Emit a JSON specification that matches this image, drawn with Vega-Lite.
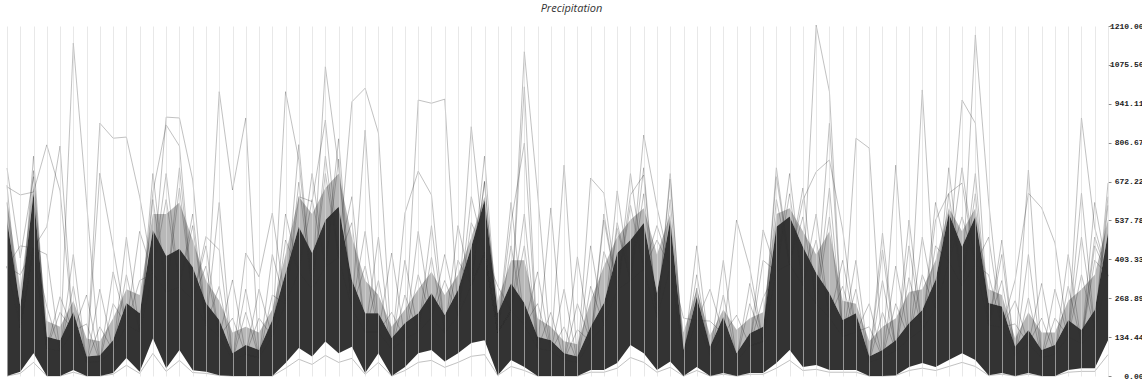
{
"$schema": "https://vega.github.io/schema/vega-lite/v6.json",
"autosize": {"type": "none"},
"width": 1101, "height": 350,
"padding": {"left": 7, "top": 26, "right": 34, "bottom": 9},
"background": "white",
"title": {"text": "Precipitation", "fontStyle": "italic", "font": "Open Sans", "fontSize": 11, "fontWeight": "normal", "color": "#333", "anchor": "middle", "dx": 14, "offset": 8},
"config": {
  "view": {"stroke": null},
  "axisY": {"labelFont": "Liberation Mono", "labelFontSize": 8, "labelFontWeight": "bold",
            "labelColor": "#222", "labelAlign": "right", "labelPadding": 32, "labelBaseline": "middle",
            "labelOverlap": false, "labelBound": false, "labelFlush": false,
            "tickSize": 3, "tickColor": "#888", "domain": false, "grid": false, "title": null}
},
"data": {"values": [
{"m":0,"lo":0,"hi":540,"h2":610,"a":719,"b":654,"c":378,"d":378,"e":660,"f":378,"g":0,"h":378,"i":600,"j":378},
{"m":1,"lo":15,"hi":240,"h2":300,"a":408,"b":626,"c":168,"d":168,"e":168,"f":350,"g":9,"h":450,"i":168,"j":168},
{"m":2,"lo":79,"hi":632,"h2":660,"a":689,"b":636,"c":442,"d":442,"e":710,"f":442,"g":47,"h":442,"i":442,"j":760},
{"m":3,"lo":0,"hi":136,"h2":190,"a":95,"b":799,"c":516,"d":95,"e":95,"f":240,"g":0,"h":95,"i":420,"j":95},
{"m":4,"lo":0,"hi":124,"h2":170,"a":87,"b":640,"c":795,"d":274,"e":220,"f":87,"g":0,"h":87,"i":87,"j":87},
{"m":5,"lo":21,"hi":222,"h2":260,"a":1151,"b":155,"c":155,"d":155,"e":155,"f":310,"g":13,"h":155,"i":155,"j":420},
{"m":6,"lo":0,"hi":67,"h2":130,"a":600,"b":47,"c":47,"d":47,"e":180,"f":47,"g":0,"h":280,"i":47,"j":47},
{"m":7,"lo":0,"hi":72,"h2":120,"a":50,"b":874,"c":701,"d":50,"e":50,"f":170,"g":0,"h":50,"i":50,"j":300},
{"m":8,"lo":10,"hi":124,"h2":200,"a":87,"b":822,"c":446,"d":87,"e":250,"f":87,"g":6,"h":87,"i":360,"j":87},
{"m":9,"lo":62,"hi":252,"h2":300,"a":176,"b":826,"c":176,"d":176,"e":176,"f":350,"g":37,"h":480,"i":176,"j":176},
{"m":10,"lo":15,"hi":217,"h2":280,"a":152,"b":620,"c":152,"d":152,"e":330,"f":152,"g":9,"h":152,"i":500,"j":152},
{"m":11,"lo":130,"hi":505,"h2":560,"a":354,"b":354,"c":636,"d":354,"e":354,"f":610,"g":78,"h":354,"i":354,"j":700},
{"m":12,"lo":27,"hi":415,"h2":560,"a":895,"b":290,"c":868,"d":290,"e":610,"f":290,"g":16,"h":700,"i":290,"j":290},
{"m":13,"lo":90,"hi":440,"h2":600,"a":892,"b":308,"c":795,"d":308,"e":308,"f":650,"g":54,"h":308,"i":720,"j":308},
{"m":14,"lo":20,"hi":377,"h2":470,"a":678,"b":264,"c":264,"d":264,"e":520,"f":264,"g":12,"h":560,"i":264,"j":264},
{"m":15,"lo":15,"hi":252,"h2":330,"a":176,"b":176,"c":482,"d":176,"e":176,"f":380,"g":9,"h":176,"i":176,"j":450},
{"m":16,"lo":3,"hi":194,"h2":260,"a":136,"b":983,"c":436,"d":136,"e":310,"f":136,"g":2,"h":136,"i":600,"j":136},
{"m":17,"lo":0,"hi":79,"h2":150,"a":55,"b":643,"c":55,"d":332,"e":55,"f":200,"g":0,"h":55,"i":55,"j":55},
{"m":18,"lo":0,"hi":107,"h2":170,"a":75,"b":892,"c":425,"d":75,"e":220,"f":75,"g":0,"h":75,"i":75,"j":300},
{"m":19,"lo":0,"hi":90,"h2":150,"a":63,"b":63,"c":343,"d":63,"e":63,"f":200,"g":0,"h":300,"i":63,"j":63},
{"m":20,"lo":0,"hi":194,"h2":230,"a":136,"b":136,"c":563,"d":136,"e":280,"f":136,"g":0,"h":136,"i":420,"j":136},
{"m":21,"lo":45,"hi":356,"h2":420,"a":983,"b":249,"c":249,"d":249,"e":249,"f":470,"g":27,"h":249,"i":249,"j":560},
{"m":22,"lo":97,"hi":516,"h2":620,"a":747,"b":361,"c":620,"d":361,"e":670,"f":361,"g":58,"h":361,"i":800,"j":361},
{"m":23,"lo":67,"hi":425,"h2":560,"a":298,"b":298,"c":603,"d":298,"e":298,"f":610,"g":40,"h":700,"i":298,"j":298},
{"m":24,"lo":119,"hi":539,"h2":650,"a":377,"b":1069,"c":885,"d":377,"e":700,"f":377,"g":71,"h":377,"i":377,"j":760},
{"m":25,"lo":79,"hi":585,"h2":700,"a":410,"b":720,"c":410,"d":410,"e":410,"f":750,"g":47,"h":410,"i":820,"j":410},
{"m":26,"lo":101,"hi":332,"h2":480,"a":948,"b":232,"c":232,"d":232,"e":530,"f":232,"g":61,"h":620,"i":232,"j":232},
{"m":27,"lo":10,"hi":217,"h2":330,"a":995,"b":152,"c":850,"d":152,"e":152,"f":380,"g":6,"h":152,"i":152,"j":500},
{"m":28,"lo":79,"hi":217,"h2":280,"a":840,"b":152,"c":152,"d":152,"e":330,"f":152,"g":47,"h":152,"i":480,"j":152},
{"m":29,"lo":0,"hi":131,"h2":170,"a":92,"b":92,"c":92,"d":425,"e":92,"f":220,"g":0,"h":92,"i":92,"j":92},
{"m":30,"lo":31,"hi":183,"h2":230,"a":128,"b":128,"c":563,"d":128,"e":280,"f":128,"g":19,"h":400,"i":128,"j":128},
{"m":31,"lo":79,"hi":217,"h2":300,"a":152,"b":954,"c":708,"d":152,"e":152,"f":350,"g":47,"h":152,"i":152,"j":500},
{"m":32,"lo":90,"hi":287,"h2":360,"a":201,"b":943,"c":626,"d":201,"e":410,"f":201,"g":54,"h":201,"i":520,"j":201},
{"m":33,"lo":50,"hi":211,"h2":280,"a":148,"b":957,"c":148,"d":148,"e":148,"f":330,"g":30,"h":148,"i":148,"j":420},
{"m":34,"lo":79,"hi":297,"h2":350,"a":208,"b":208,"c":208,"d":208,"e":400,"f":208,"g":47,"h":520,"i":208,"j":208},
{"m":35,"lo":114,"hi":447,"h2":480,"a":313,"b":862,"c":313,"d":313,"e":313,"f":530,"g":68,"h":313,"i":620,"j":313},
{"m":36,"lo":124,"hi":608,"h2":620,"a":426,"b":426,"c":674,"d":426,"e":670,"f":426,"g":74,"h":426,"i":426,"j":760},
{"m":37,"lo":3,"hi":217,"h2":260,"a":152,"b":152,"c":152,"d":152,"e":152,"f":310,"g":2,"h":152,"i":152,"j":152},
{"m":38,"lo":55,"hi":321,"h2":400,"a":225,"b":225,"c":225,"d":529,"e":450,"f":225,"g":33,"h":600,"i":225,"j":225},
{"m":39,"lo":31,"hi":252,"h2":400,"a":1121,"b":176,"c":1000,"d":805,"e":176,"f":450,"g":19,"h":176,"i":176,"j":560},
{"m":40,"lo":0,"hi":136,"h2":200,"a":632,"b":95,"c":95,"d":95,"e":250,"f":95,"g":0,"h":95,"i":360,"j":95},
{"m":41,"lo":0,"hi":124,"h2":170,"a":87,"b":87,"c":87,"d":581,"e":87,"f":220,"g":0,"h":87,"i":87,"j":87},
{"m":42,"lo":0,"hi":79,"h2":120,"a":55,"b":729,"c":55,"d":55,"e":170,"f":55,"g":0,"h":300,"i":55,"j":55},
{"m":43,"lo":0,"hi":67,"h2":110,"a":47,"b":47,"c":412,"d":47,"e":47,"f":160,"g":0,"h":47,"i":47,"j":250},
{"m":44,"lo":21,"hi":170,"h2":260,"a":119,"b":684,"c":119,"d":119,"e":310,"f":119,"g":13,"h":119,"i":450,"j":119},
{"m":45,"lo":21,"hi":252,"h2":380,"a":176,"b":632,"c":539,"d":176,"e":176,"f":430,"g":13,"h":560,"i":176,"j":176},
{"m":46,"lo":45,"hi":425,"h2":480,"a":298,"b":298,"c":298,"d":510,"e":530,"f":298,"g":27,"h":298,"i":298,"j":640},
{"m":47,"lo":107,"hi":470,"h2":540,"a":329,"b":329,"c":626,"d":329,"e":329,"f":590,"g":64,"h":329,"i":700,"j":329},
{"m":48,"lo":79,"hi":529,"h2":580,"a":833,"b":370,"c":695,"d":370,"e":630,"f":370,"g":47,"h":720,"i":370,"j":370},
{"m":49,"lo":21,"hi":287,"h2":420,"a":585,"b":201,"c":201,"d":201,"e":201,"f":470,"g":13,"h":201,"i":201,"j":520},
{"m":50,"lo":50,"hi":539,"h2":560,"a":377,"b":377,"c":681,"d":377,"e":610,"f":377,"g":30,"h":377,"i":700,"j":377},
{"m":51,"lo":0,"hi":90,"h2":150,"a":63,"b":63,"c":63,"d":63,"e":63,"f":200,"g":0,"h":63,"i":63,"j":63},
{"m":52,"lo":31,"hi":274,"h2":300,"a":192,"b":192,"c":192,"d":304,"e":350,"f":192,"g":19,"h":450,"i":192,"j":192},
{"m":53,"lo":0,"hi":101,"h2":140,"a":71,"b":71,"c":71,"d":71,"e":71,"f":190,"g":0,"h":71,"i":71,"j":300},
{"m":54,"lo":10,"hi":205,"h2":230,"a":144,"b":144,"c":144,"d":144,"e":280,"f":144,"g":6,"h":144,"i":400,"j":144},
{"m":55,"lo":0,"hi":79,"h2":160,"a":55,"b":55,"c":55,"d":539,"e":55,"f":210,"g":0,"h":55,"i":55,"j":55},
{"m":56,"lo":10,"hi":148,"h2":200,"a":104,"b":104,"c":104,"d":373,"e":250,"f":104,"g":6,"h":320,"i":104,"j":104},
{"m":57,"lo":10,"hi":170,"h2":220,"a":119,"b":119,"c":505,"d":119,"e":119,"f":270,"g":6,"h":119,"i":119,"j":400},
{"m":58,"lo":45,"hi":516,"h2":560,"a":361,"b":689,"c":361,"d":361,"e":610,"f":361,"g":27,"h":361,"i":720,"j":361},
{"m":59,"lo":90,"hi":551,"h2":580,"a":386,"b":386,"c":386,"d":386,"e":386,"f":630,"g":54,"h":386,"i":386,"j":700},
{"m":60,"lo":31,"hi":447,"h2":500,"a":313,"b":313,"c":608,"d":313,"e":550,"f":313,"g":19,"h":650,"i":313,"j":313},
{"m":61,"lo":38,"hi":356,"h2":420,"a":1213,"b":249,"c":706,"d":249,"e":249,"f":470,"g":23,"h":249,"i":560,"j":249},
{"m":62,"lo":21,"hi":287,"h2":500,"a":983,"b":874,"c":747,"d":201,"e":550,"f":201,"g":13,"h":650,"i":201,"j":201},
{"m":63,"lo":21,"hi":194,"h2":260,"a":136,"b":136,"c":505,"d":136,"e":136,"f":310,"g":13,"h":136,"i":136,"j":400},
{"m":64,"lo":21,"hi":217,"h2":250,"a":152,"b":822,"c":152,"d":152,"e":300,"f":152,"g":13,"h":152,"i":400,"j":152},
{"m":65,"lo":0,"hi":67,"h2":120,"a":47,"b":788,"c":47,"d":47,"e":47,"f":170,"g":0,"h":47,"i":47,"j":250},
{"m":66,"lo":0,"hi":90,"h2":170,"a":63,"b":63,"c":494,"d":436,"e":220,"f":63,"g":0,"h":330,"i":63,"j":63},
{"m":67,"lo":3,"hi":124,"h2":200,"a":87,"b":729,"c":87,"d":87,"e":87,"f":250,"g":2,"h":87,"i":87,"j":380},
{"m":68,"lo":31,"hi":183,"h2":290,"a":128,"b":128,"c":128,"d":539,"e":340,"f":128,"g":19,"h":128,"i":450,"j":128},
{"m":69,"lo":45,"hi":228,"h2":300,"a":989,"b":160,"c":160,"d":160,"e":160,"f":350,"g":27,"h":160,"i":160,"j":480},
{"m":70,"lo":31,"hi":332,"h2":400,"a":232,"b":232,"c":539,"d":232,"e":450,"f":232,"g":19,"h":600,"i":232,"j":232},
{"m":71,"lo":55,"hi":563,"h2":580,"a":394,"b":394,"c":632,"d":394,"e":394,"f":630,"g":33,"h":394,"i":720,"j":394},
{"m":72,"lo":79,"hi":447,"h2":500,"a":313,"b":954,"c":667,"d":313,"e":550,"f":313,"g":47,"h":720,"i":313,"j":313},
{"m":73,"lo":55,"hi":551,"h2":580,"a":1179,"b":874,"c":386,"d":386,"e":386,"f":630,"g":33,"h":386,"i":386,"j":700},
{"m":74,"lo":3,"hi":252,"h2":300,"a":603,"b":176,"c":176,"d":176,"e":350,"f":176,"g":2,"h":176,"i":480,"j":176},
{"m":75,"lo":10,"hi":240,"h2":280,"a":168,"b":168,"c":168,"d":470,"e":168,"f":330,"g":6,"h":168,"i":168,"j":420},
{"m":76,"lo":0,"hi":101,"h2":130,"a":71,"b":71,"c":332,"d":71,"e":180,"f":71,"g":0,"h":260,"i":71,"j":71},
{"m":77,"lo":10,"hi":159,"h2":220,"a":111,"b":712,"c":632,"d":111,"e":111,"f":270,"g":6,"h":111,"i":111,"j":420},
{"m":78,"lo":0,"hi":90,"h2":150,"a":63,"b":63,"c":581,"d":63,"e":200,"f":63,"g":0,"h":63,"i":320,"j":63},
{"m":79,"lo":0,"hi":107,"h2":150,"a":75,"b":75,"c":460,"d":75,"e":75,"f":200,"g":0,"h":75,"i":75,"j":300},
{"m":80,"lo":21,"hi":194,"h2":260,"a":136,"b":136,"c":136,"d":136,"e":310,"f":136,"g":13,"h":420,"i":136,"j":136},
{"m":81,"lo":27,"hi":159,"h2":300,"a":892,"b":111,"c":632,"d":111,"e":111,"f":350,"g":16,"h":111,"i":480,"j":111},
{"m":82,"lo":27,"hi":228,"h2":350,"a":512,"b":160,"c":160,"d":450,"e":400,"f":160,"g":16,"h":600,"i":160,"j":480},
{"m":83,"lo":124,"hi":494,"h2":540,"a":346,"b":667,"c":346,"d":346,"e":346,"f":590,"g":74,"h":346,"i":620,"j":346}
]},
"encoding": {
  "x": {"field": "m", "type": "ordinal", "scale": {"type": "point", "padding": 0},
        "axis": {"grid": true, "gridColor": "#d8d8d8", "gridOpacity": 0.6, "gridWidth": 1, "labels": false, "ticks": false, "domain": false, "title": null, "zindex": 1}}
},
"layer": [
  {"mark": {"type": "area", "color": "#333333", "opacity": 0.35},
   "encoding": {
     "y": {"field": "h2", "type": "quantitative", "title": null,
           "scale": {"domain": [0, 1210], "nice": false, "zero": true},
           "axis": {"orient": "right", "values": [0, 134.44, 268.89, 403.33, 537.78, 672.22, 806.67, 941.11, 1075.56, 1210], "format": ".2f", "labelOverlap": false}},
     "y2": {"field": "hi"}}},
  {"mark": {"type": "area", "color": "#333333", "opacity": 1},
   "encoding": {"y": {"field": "hi", "type": "quantitative", "title": null,
           "axis": {"orient": "right", "values": [0, 134.44, 268.89, 403.33, 537.78, 672.22, 806.67, 941.11, 1075.56, 1210], "format": ".2f", "labelOverlap": false}},
     "y2": {"field": "lo"}}},
  {"transform": [{"fold": ["a", "b", "c", "d", "e", "f", "g", "h", "i", "j"], "as": ["s", "v"]}],
   "mark": {"type": "line", "color": "#333333", "opacity": 0.3, "strokeWidth": 1},
   "encoding": {"y": {"field": "v", "type": "quantitative", "title": null,
           "axis": {"orient": "right", "values": [0, 134.44, 268.89, 403.33, 537.78, 672.22, 806.67, 941.11, 1075.56, 1210], "format": ".2f", "labelOverlap": false}},
     "detail": {"field": "s", "type": "nominal"}}}
]
}
